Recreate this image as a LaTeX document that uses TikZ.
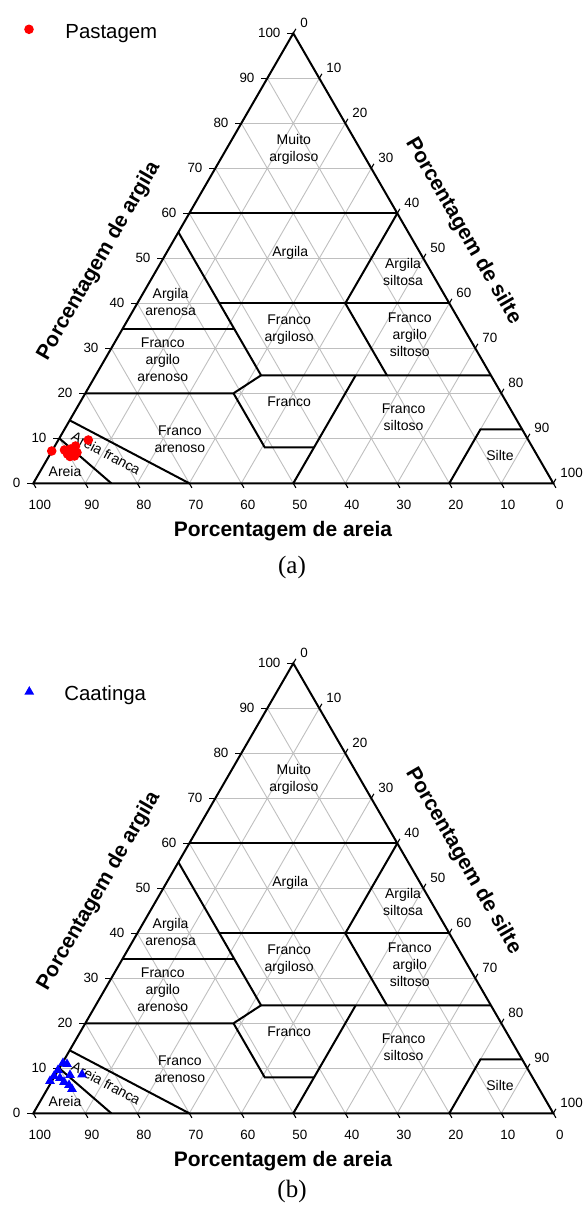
\documentclass[tikz,border=0pt]{standalone}
\usepackage{fontspec}
\setmainfont{Liberation Sans}
\newfontfamily\timesfont{Liberation Serif}
\usetikzlibrary{shapes.geometric}

\tikzset{
  grid line/.style={draw=black!25, line width=0.45pt},
  class line/.style={draw=black, line width=1pt, line join=miter},
  frame line/.style={draw=black, line width=1pt, line join=miter},
  tick line/.style={draw=black, line width=0.55pt},
  ticklabel/.style={font=\fontsize{6.7}{8}\selectfont, inner sep=0pt},
  classlabel/.style={font=\fontsize{7}{8.5}\selectfont, align=center, inner sep=0pt},
  axistitle/.style={font=\fontsize{10.5}{12}\selectfont\bfseries, inner sep=0pt},
  legendtext/.style={font=\fontsize{10.2}{12}\selectfont, inner sep=0pt, anchor=base west},
  panellabel/.style={font=\timesfont\fontsize{12.5}{14}\selectfont, inner sep=0pt, anchor=base},
  pastagem/.style={circle, fill=red, draw=none, inner sep=0pt, minimum size=4.8pt},
  caatinga/.style={regular polygon, regular polygon sides=3, fill=blue, draw=none, inner sep=0pt, minimum size=5.6pt},
}

\newcommand{\soiltri}{%
  \begin{scope}[shift={(16.65pt,-241.65pt)}, x={(2.6pt,0pt)}, y={(0pt,2.25pt)}]
    % light grid
    \foreach \v in {10,20,...,90} {
      \draw[grid line] ({\v/2},\v) -- ({100-\v/2},\v);
      \draw[grid line] (\v,0) -- ({50+\v/2},{100-\v});
      \draw[grid line] (\v,0) -- ({\v/2},\v);
    }
    % class boundaries
    \draw[class line] (30,60) -- (70,60);
    \draw[class line] (27.9,55.8) -- (43.8,24) -- (88,24);
    \draw[class line] (17.2,34.4) -- (38.6,34.4);
    \draw[class line] (35.8,40) -- (80,40);
    \draw[class line] (70,60) -- (60,40) -- (68,24);
    \draw[class line] (10,20) -- (38.5,20) -- (43.8,24);
    \draw[class line] (38.5,20) -- (44.5,8) -- (54,8);
    \draw[class line] (50,0) -- (62,24);
    \draw[class line] (80,0) -- (86,12) -- (94,12);
    \draw[class line] (30,0) -- (7,14);
    \draw[class line] (15,0) -- (5,10);
    % frame
    \draw[frame line] (0,0) -- (100,0) -- (50,100) -- cycle;
    % ticks and tick labels
    \foreach \v in {0,10,...,100} {
      \pgfmathtruncatemacro{\lab}{100-\v}
      \draw[tick line] ({\v/2},\v) -- ++(-1.15,0);
      \node[ticklabel, anchor=east] (clay\v) at ({\v/2-2.4},\v) {\v};
      \draw[tick line] (\v,0) -- ++(0.5,-1);
      \node[ticklabel] (sand\v) at ({\v+1.25},-4.8) {\lab};
      \draw[tick line] ({50+\v/2},{100-\v}) -- ++(0.5,1);
      \node[ticklabel, anchor=west] (silt\v) at ({50+\v/2+1.29},{100-\v+2.22}) {\v};
    }
    % class names
    \node[classlabel] (muito) at (50.1,74.1) {Muito\\argiloso};
    \node[classlabel] (argila) at (49.4,51.1) {Argila};
    \node[classlabel] (argsil) at (71.1,47.0) {Argila\\siltosa};
    \node[classlabel] (argare) at (26.4,40.4) {Argila\\arenosa};
    \node[classlabel] (frarg) at (49.2,34.1) {Franco\\argiloso};
    \node[classlabel] (frargsil) at (72.4,33.1) {Franco\\argilo\\siltoso};
    \node[classlabel] (frargare) at (24.9,27.5) {Franco\\argilo\\arenoso};
    \node[classlabel] (franco) at (49.2,18.1) {Franco};
    \node[classlabel] (frsil) at (71.2,14.7) {Franco\\siltoso};
    \node[classlabel] (silte) at (89.75,6.1) {Silte};
    \node[classlabel] (frare) at (28.2,9.9) {Franco\\arenoso};
    \node[classlabel, rotate=-28] (arfr) at (14.0,6.7) {Areia franca};
    \node[classlabel] (areia) at (6.1,2.7) {Areia};
  \end{scope}
  % axis titles
  \node[axistitle, rotate=60] (ttlclay) at (99,261) {Porcentagem de argila};
  \node[axistitle, rotate=-60] (ttlsilt) at (463,231) {Porcentagem de silte};
  \node[axistitle] (ttlsand) at (283,531) {Porcentagem de areia};
}

\begin{document}
\begin{tikzpicture}[x=0.5pt,y=-0.5pt]
  \useasboundingbox (0,0) rectangle (584,1206);

  % ---------- panel (a) ----------
  \begin{scope}[name prefix=pa-]
    \soiltri
    \begin{scope}[shift={(16.65pt,-241.65pt)}, x={(2.6pt,0pt)}, y={(0pt,2.25pt)}]
      \foreach \px/\py [count=\i] in {3.54/7.18, 10.58/9.62, 6.0/7.4, 6.58/6.51, 7.06/5.96, 7.44/6.96, 7.92/6.07, 8.12/8.29, 8.4/6.84, 7.15/7.62}
        \node[pastagem] (pt\i) at (\px,\py) {};
    \end{scope}
  \end{scope}
  \node[pastagem] (legdot) at (29,29.3) {};
  \node[legendtext] (legpast) at (65,38.3) {Pastagem};
  \node[panellabel] (capa) at (292,573) {(a)};

  % ---------- panel (b) ----------
  \begin{scope}[yshift=-315pt, name prefix=pb-]
    \soiltri
    \begin{scope}[shift={(16.65pt,-241.65pt)}, x={(2.6pt,0pt)}, y={(0pt,2.25pt)}]
      \foreach \px/\py [count=\i] in {5.71/11.18, 6.48/10.96, 4.75/9.62, 3.98/8.29, 3.21/7.18, 5.13/7.85, 5.9/6.96, 7.06/8.51, 9.37/8.62, 6.87/6.29, 7.44/5.4}
        \node[caatinga] (tr\i) at (\px,\py) {};
    \end{scope}
  \end{scope}
  \node[caatinga] (legtri) at (29.3,691.7) {};
  \node[legendtext] (legcaat) at (64,700) {Caatinga};
  \node[panellabel] (capb) at (292,1197) {(b)};
\end{tikzpicture}
\end{document}
